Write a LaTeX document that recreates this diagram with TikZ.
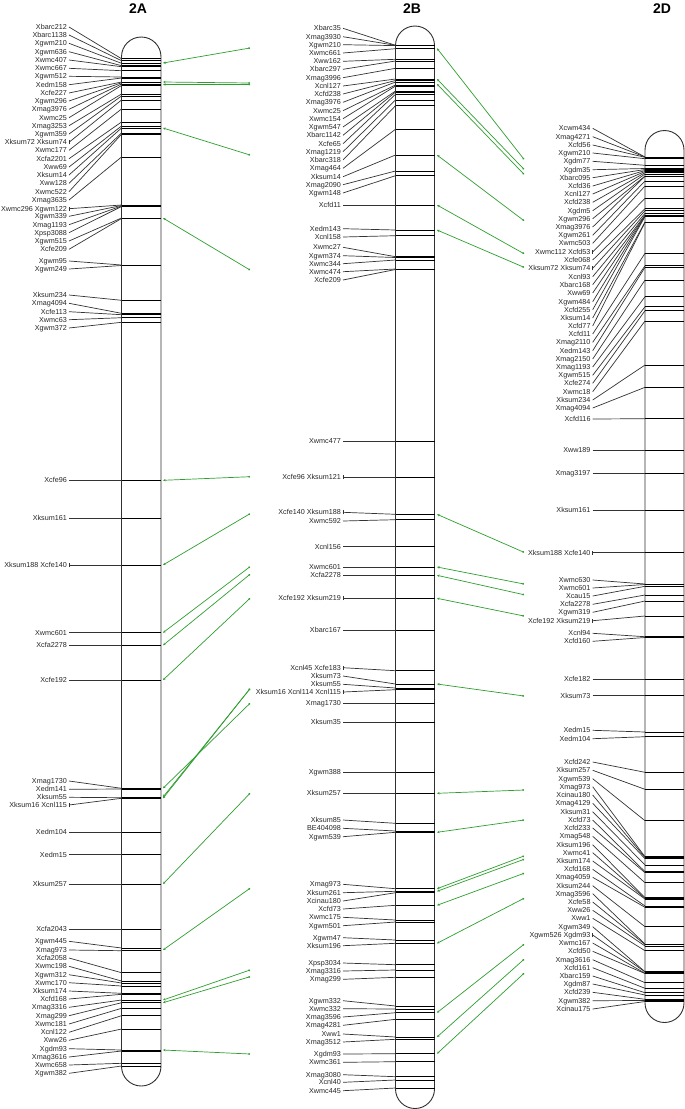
\documentclass[tikz,border=0pt]{standalone}
\usepackage{fontspec}
\setmainfont{Liberation Sans}
\usetikzlibrary{arrows.meta,positioning,calc}
\definecolor{linkgreen}{HTML}{2E9E2E}
\definecolor{chromgray}{HTML}{303030}
\tikzset{
  mk/.style={font=\fontsize{7.2}{8}\selectfont, anchor=east, inner sep=0pt,
    text height=5.2pt, text depth=0pt, text=black!85},
  lead/.style={line width=0.7pt, color=black!80},
  band/.style={line width=0.8pt, color=black},
  chrom/.style={draw=chromgray, line width=0.9pt},
  chtitle/.style={font=\bfseries\fontsize{14}{16}\selectfont, inner sep=0pt},
  grp/.style={line width=0.6pt, color=black!80},
  link/.style={{Stealth[length=2.6pt,width=2.4pt]}-{Circle[length=1.8pt]},
    line width=0.7pt, color=linkgreen},
}

\begin{document}
\begin{tikzpicture}[x=1pt,y=-1pt]
  \useasboundingbox (0,0) rectangle (685,1109);
  % titles
  \node[chtitle] (tA) at (138,8.5) {2A};
  \node[chtitle] (tB) at (412,8.5) {2B};
  \node[chtitle] (tD) at (662,8.5) {2D};
  % chromosomes
  \draw[chrom] (121.5,56.75) arc[start angle=180,end angle=360,radius=19.75]
    -- (161,1066.25) arc[start angle=0,end angle=180,radius=19.75] -- cycle;
  \draw[chrom] (395.5,45.5) arc[start angle=180,end angle=360,radius=19.5]
    -- (434.5,1089) arc[start angle=0,end angle=180,radius=19.5] -- cycle;
  \draw[chrom] (645,150) arc[start angle=180,end angle=360,radius=19.5]
    -- (684,1003) arc[start angle=0,end angle=180,radius=19.5] -- cycle;
  % 2A markers
  \foreach \ly/\by/\g/\txt [count=\i] in {
      27/58.7/0/Xbarc212, 35/60.7/0/Xbarc1138, 43.3/63.3/0/Xgwm210, 51.7/65.7/0/Xgwm636,
      60/66.7/0/Xwmc407, 68.3/70.7/0/Xwmc667, 76.3/77/0/Xgwm512, 84.7/78/0/Xedm158,
      93/82/0/Xcfe227, 101/82.8/0/Xgwm296, 109.3/84/0/Xmag3976, 117.7/85.5/0/Xwmc25,
      125.7/94/0/Xmag3253, 134/96/0/Xgwm359, 142.3/100/1/Xksum72 Xksum74,
      150.3/109/0/Xwmc177, 158.7/122/0/Xcfa2201, 167/126/0/Xww69, 175/128/0/Xksum14,
      183.3/133/0/Xww128, 191.7/134.3/0/Xwmc522, 200/157/0/Xmag3635,
      208.7/205/1/Xwmc296 Xgwm122, 216.3/205.5/0/Xgwm339, 224.7/206/0/Xmag1193,
      232.7/206.5/0/Xpsp3088, 241/218/0/Xgwm515, 249.3/218.5/0/Xcfe209,
      261/265/0/Xgwm95, 269/265.5/0/Xgwm249,
      295/300.3/0/Xksum234, 303.3/313.3/0/Xmag4094, 311.7/314.7/0/Xcfe113,
      319.7/317.7/0/Xwmc63, 328/322.3/0/Xgwm372,
      480.3/480.3/0/Xcfe96, 518.3/518.3/0/Xksum161, 565/565/1/Xksum188 Xcfe140,
      632.7/632.7/0/Xwmc601, 645.3/645.3/0/Xcfa2278, 680/680/0/Xcfe192,
      781/788.3/0/Xmag1730, 789.3/789/0/Xedm141, 797.3/797.7/0/Xksum55,
      805/798.3/1/Xksum16 Xcnl115, 832.3/832.3/0/Xedm104, 854.7/854.7/0/Xedm15,
      884/884/0/Xksum257, 929.3/929.3/0/Xcfa2043, 941.3/948/0/Xgwm445,
      950/950.7/0/Xmag973, 958/972.7/0/Xcfa2058, 966.3/981/0/Xwmc198,
      974.7/983/0/Xgwm312, 982.7/986/0/Xwmc170, 991/993.3/0/Xksum174,
      999/994.3/0/Xcfd168, 1007.3/1000/0/Xmag3316, 1015.7/1002.7/0/Xmag299,
      1024/1008.3/0/Xwmc181, 1032.3/1015.7/0/Xcnl122, 1040.3/1029/0/Xww26,
      1048.7/1050/0/Xgdm93, 1057/1051/0/Xmag3616, 1065/1063.3/0/Xwmc658,
      1073.3/1066/0/Xgwm382} {
    \node[mk] (a\i) at (67,\ly) {\txt};
    \coordinate (ab\i) at (121.5,\by);
    \draw[lead] ([xshift=2pt]a\i.east) -- (ab\i);
    \draw[band] (ab\i) -- ++(39.5,0);
    \ifnum\g=1 \draw[grp] ([xshift=2pt,yshift=-2pt]a\i.east) -- ++(0,4pt);\fi
  }
  % 2B markers
  \foreach \ly/\by/\g/\txt [count=\i] in {
      28.3/45.3/0/Xbarc35, 36.7/45.3/0/Xmag3930, 44.7/45.6/0/Xgwm210, 53/48.7/0/Xwmc661,
      61.3/59.3/0/Xww162, 69.3/61/0/Xbarc297, 77.7/68.3/0/Xmag3996, 86/79/0/Xcnl127,
      94/80.5/0/Xcfd238, 102.3/82/0/Xmag3976, 110.7/85/0/Xwmc25, 118.7/86/0/Xwmc154,
      127/91/0/Xgwm547, 135.3/92/0/Xbarc1142, 143.7/94.3/0/Xcfe65, 151.7/100/0/Xmag1219,
      160/105.7/0/Xbarc318, 168.3/129.3/0/Xmag464, 176.7/155/0/Xksum14,
      184.7/171/0/Xmag2090, 193/175.7/0/Xgwm148, 205/205/0/Xcfd11,
      228.7/230/0/Xedm143, 237/235.7/0/Xcnl158, 247.3/256.7/0/Xwmc27,
      255.7/257.5/0/Xgwm374, 263.7/260/0/Xwmc344, 271.7/269/0/Xwmc474, 280/269.5/0/Xcfe209,
      441.3/441.3/0/Xwmc477, 477/477/1/Xcfe96 Xksum121, 512.3/514.3/1/Xcfe140 Xksum188,
      521/519.7/0/Xwmc592, 546.7/546.7/0/Xcnl156, 567/567/0/Xwmc601,
      575.3/575.3/0/Xcfa2278, 598/598/1/Xcfe192 Xksum219, 630.3/630.3/0/Xbarc167,
      667.7/670.7/1/Xcnl45 Xcfe183, 676/684/0/Xksum73, 684.3/688/0/Xksum55,
      692/689.7/1/Xksum16 Xcnl114 Xcnl115, 703.3/703.3/0/Xmag1730, 722/722/0/Xksum35,
      772/772/0/Xgwm388, 793.3/793.3/0/Xksum257, 820/823.3/0/Xksum85,
      828.3/831/0/BE404098, 836.7/832.3/0/Xgwm539,
      884.3/888.7/0/Xmag973, 892.7/891.3/0/Xksum261, 901/892.7/0/Xcinau180,
      909/905.3/0/Xcfd73, 917.3/920/0/Xwmc175, 925.7/922/0/Xgwm501,
      937.7/940/0/Xgwm47, 945.7/943.3/0/Xksum196, 963/964.7/0/Xpsp3034,
      971/970/0/Xmag3316, 979.3/977.3/0/Xmag299, 1000.7/1006/0/Xgwm332,
      1008.7/1009/0/Xwmc332, 1017/1012.7/0/Xmag3596, 1025.3/1019.3/0/Xmag4281,
      1034/1037/0/Xww1, 1042/1039.3/0/Xmag3512, 1054/1053.7/0/Xgdm93,
      1062.3/1061.7/0/Xwmc361, 1074.7/1076.7/0/Xmag3080, 1082.3/1080/0/Xcnl40,
      1090.7/1088/0/Xwmc445} {
    \node[mk] (b\i) at (341,\ly) {\txt};
    \coordinate (bb\i) at (395.5,\by);
    \draw[lead] ([xshift=2pt]b\i.east) -- (bb\i);
    \draw[band] (bb\i) -- ++(39,0);
    \ifnum\g=1 \draw[grp] ([xshift=2pt,yshift=-2pt]b\i.east) -- ++(0,4pt);\fi
  }
  % 2D markers
  \foreach \ly/\by/\g/\txt [count=\i] in {
      128.3/157/0/Xcwm434, 136.7/157/0/Xmag4271, 145/157.3/0/Xcfd56,
      153/158.7/0/Xgwm210, 161.3/165.3/0/Xgdm77, 169.7/168.5/0/Xgdm35,
      177.7/169.5/0/Xbarc095, 186/170.5/0/Xcfd36, 194/171.5/0/Xcnl127,
      202.3/172.7/0/Xcfd238, 210.7/174/0/Xgdm5, 218.7/176/0/Xgwm296,
      227/176.3/0/Xmag3976, 235.3/181/0/Xgwm261, 243.3/186/0/Xwmc503,
      252/198.3/1/Xwmc112 Xcfd53, 260/208.7/0/Xcfe068, 268.3/210.7/1/Xksum72 Xksum74,
      276.7/213.3/0/Xcnl93, 284.7/215/0/Xbarc168, 293/215.5/0/Xww69,
      301.7/216/0/Xgwm484, 309.7/216.5/0/Xcfd255, 318/222/0/Xksum14,
      326/222.5/0/Xcfd77, 334/253.3/0/Xcfd11, 342.3/265.7/0/Xmag2110,
      350.7/267.3/0/Xedm143, 359/280/0/Xmag2150, 367/296.7/0/Xmag1193,
      375.3/306.7/0/Xgwm515, 383.3/310.7/0/Xcfe274, 391.7/321/0/Xwmc18,
      400/365/0/Xksum234, 408/387.3/0/Xmag4094, 419/418.7/0/Xcfd116,
      450.3/450.3/0/Xww189, 473.3/473.3/0/Xmag3197, 510.3/510.3/0/Xksum161,
      552.7/552.7/1/Xksum188 Xcfe140, 580/584/0/Xwmc630, 588/584.5/0/Xwmc601,
      596/586.3/0/Xcau15, 604.3/595/0/Xcfa2278, 612.3/601/0/Xgwm319,
      620.7/616/1/Xcfe192 Xksum219, 633.3/636.7/0/Xcnl94, 641.3/637.5/0/Xcfd160,
      679.3/679.3/0/Xcfe182, 695.7/695.7/0/Xksum73, 730.3/732/0/Xedm15,
      738.7/736.7/0/Xedm104, 762/772.3/0/Xcfd242, 770.3/789.3/0/Xksum257,
      778.7/820.7/0/Xgwm539, 786.7/856.7/0/Xmag973, 795/857.5/0/Xcinau180,
      803.3/858.7/0/Xmag4129, 811.7/865/0/Xksum31, 820/871.7/0/Xcfd73,
      828/872.7/0/Xcfd233, 836.3/882.7/0/Xmag548, 844.7/897.7/0/Xksum196,
      852.7/898.3/0/Xwmc41, 861/899/0/Xksum174, 869.3/906/0/Xcfd168,
      877.3/907.3/0/Xmag4059, 885.7/926.7/0/Xksum244, 893.7/944/0/Xmag3596,
      902/944.5/0/Xcfe58, 910.3/946/0/Xww26, 918.3/950.7/0/Xww1,
      926.7/971.7/0/Xgwm349, 935/971.9/1/Xgwm526 Xgdm93, 943/973.3/0/Xwmc167,
      951.3/973.5/0/Xcfd50, 959.7/982.7/0/Xmag3616, 967.7/988.3/0/Xcfd161,
      976/992.7/0/Xbarc159, 984/995/0/Xgdm87, 992.3/999.3/0/Xcfd239,
      1000.7/1000.5/0/Xgwm382, 1009/1001.5/0/Xcinau175} {
    \node[mk] (d\i) at (590.7,\ly) {\txt};
    \coordinate (db\i) at (645,\by);
    \draw[lead] ([xshift=2pt]d\i.east) -- (db\i);
    \draw[band] (db\i) -- ++(39,0);
    \ifnum\g=1 \draw[grp] ([xshift=2pt,yshift=-2pt]d\i.east) -- ++(0,4pt);\fi
  }
  % links 2A to 2B
  \foreach \ya/\yb [count=\i] in {63/48, 82/83, 84.5/84.5, 128/155, 218/270,
      480.3/476.7, 565/513.7, 632.7/566.7, 645.3/574.3, 680/598.3,
      788.3/703.3, 797/688.7, 798.3/688.7, 884/793.3, 950/888.3,
      1000/970, 1002.7/976.7, 1050/1054} {
    \coordinate (ls\i) at (163,\ya);
    \coordinate (le\i) at (250,\yb);
    \draw[link] (ls\i) -- (le\i);
  }
  % links 2B to 2D
  \foreach \ya/\yb [count=\i] in {48.3/159.3, 79/169.3, 84/174.3, 155/220.7,
      205/253.7, 230/267.3, 514.3/552.3, 567/584, 575.3/594.7, 598.3/616,
      684/696, 793.3/790, 832.3/820, 888.7/856, 891.3/859.3, 905.3/873.3,
      943.3/898.3, 1012.7/944.3, 1037/959.3, 1053.7/973.3} {
    \coordinate (ms\i) at (437,\ya);
    \coordinate (me\i) at (524,\yb);
    \draw[link] (ms\i) -- (me\i);
  }
\end{tikzpicture}
\end{document}
